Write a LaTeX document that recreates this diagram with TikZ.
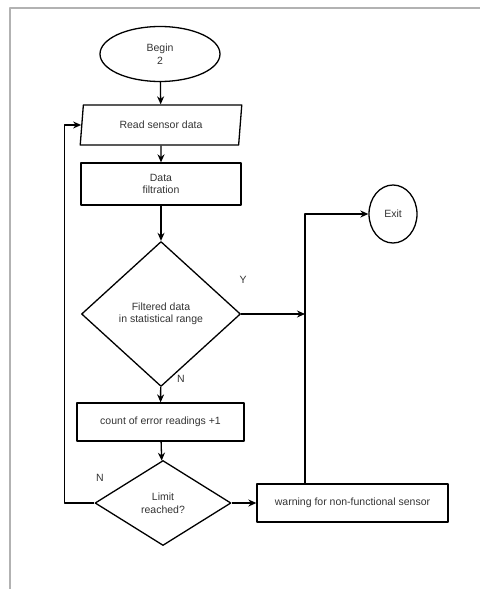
\documentclass[tikz,border=0pt]{standalone}
\usepackage{fontspec}
\setmainfont{Liberation Sans}
\usetikzlibrary{shapes.geometric,arrows.meta}
\begin{document}
\begin{tikzpicture}[x=1pt,y=-1pt, font=\fontsize{10.5}{12.5}\selectfont, line join=round, >={Stealth[length=8pt,width=7pt]},
	box/.style={draw, line width=1.3pt, text=black!80, align=center, inner sep=1pt},
	term/.style={box, ellipse},
	io/.style={box, trapezium, trapezium left angle=80, trapezium right angle=100, trapezium stretches=true},
	proc/.style={box, rectangle},
	test/.style={box, diamond},
	flow/.style={->, line width=1.3pt}]
	\useasboundingbox (0,0) rectangle (480,589);
	% frame
	\draw[gray!60, line width=1.2pt] (10,589)--(10,8)--(480,8);
	% blocks
	\node[term, minimum width=120pt, minimum height=55pt] (begin) at (160,54) {Begin\\2};
	\node[io, minimum width=162pt, minimum height=40pt] (read) at (161,125) {Read sensor data};
	\node[proc, minimum width=160pt, minimum height=42pt] (filt) at (161,184) {Data\\filtration};
	\node[test, minimum width=159pt, minimum height=145pt] (check) at (161,314) {Filtered data\\in statistical range};
	\node[proc, minimum width=167pt, minimum height=38pt] (count) at (160.5,422) {count of error readings +1};
	\node[test, minimum width=136pt, minimum height=85pt] (limit) at (163,503) {Limit\\reached?};
	\node[proc, minimum width=191pt, minimum height=38pt] (warn) at (352.5,503) {warning for non-functional sensor};
	\node[term, minimum width=48pt, minimum height=58pt] (exit) at (393,214) {Exit};
	\coordinate (jn) at (305,314);
	% labels
	\node[text=black!80] (ly) at (243,280) {Y};
	\node[text=black!80] (ln1) at (181,379) {N};
	\node[text=black!80] (ln2) at (100,478) {N};
	% connectors
	\draw[flow] (begin)--(read);
	\draw[flow] (read)--(filt);
	\draw[flow] (filt)--(check);
	\draw[flow] (check)--(count);
	\draw[flow] (count)--(limit);
	\draw[flow] (limit.west)--++(-30,0) |- (read.west);
	\draw[flow] (check.east)--(jn);
	\draw[flow] (limit.east)--(warn.west);
	\draw[flow] (warn.north -| jn) |- (exit.west);
\end{tikzpicture}
\end{document}
